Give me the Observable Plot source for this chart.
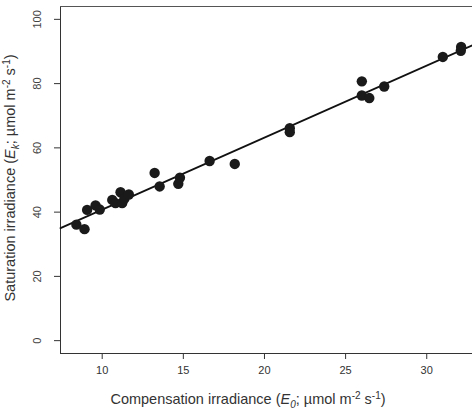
<!DOCTYPE html>
<html>
<head>
<meta charset="utf-8">
<script src="https://cdn.jsdelivr.net/npm/d3@7"></script>
<script src="https://cdn.jsdelivr.net/npm/@observablehq/plot@0.6"></script>
<style>
  html, body { margin: 0; padding: 0; background: #fff; }
  svg { display: block; }
</style>
</head>
<body>
<div id="chart"></div>
<script>
// Data
const compensation = [8.41, 8.91, 9.07, 9.59, 9.85, 10.62, 10.82, 11.13, 11.23, 11.37, 11.64,
  13.23, 13.54, 14.69, 14.79, 16.62, 18.17, 21.56, 21.56, 26.0, 26.0, 26.46, 27.38, 30.99, 32.12, 32.1];
const saturation = [36.1, 34.7, 40.7, 42.1, 40.8, 43.8, 42.8, 46.2, 42.8, 44.2, 45.5,
  52.2, 48.0, 48.8, 50.7, 55.9, 55.0, 66.1, 64.9, 80.7, 76.3, 75.5, 79.1, 88.3, 91.4, 90.2];
const fitIntercept = 18.35;
const fitSlope = 2.241;
const xTicks = [10, 15, 20, 25, 30];
const yTicks = [0, 20, 40, 60, 80, 100];
const xDomain = [7.43, 32.82];
const yDomain = [-4, 104];

const points = compensation.map((x, i) => ({x, y: saturation[i]}));
const fitLine = xDomain.map(x => ({x, y: fitIntercept + fitSlope * x}));

const ink = "#333";
const plot = Plot.plot({
  width: 472,
  height: 413,
  marginLeft: 60,
  marginTop: 6,
  marginBottom: 60,
  marginRight: 0,
  style: {fontFamily: "'Liberation Sans', Arial, Helvetica, sans-serif", fontSize: "11px", color: ink, background: "#fff"},
  x: {domain: xDomain, axis: null},
  y: {domain: yDomain, axis: null},
  marks: [
    Plot.axisX(xTicks, {tickSize: 6, tickPadding: 7, fontSize: 11, stroke: ink, color: ink, label: null}),
    Plot.axisY(yTicks, {tickSize: 6, tickFormat: () => "", stroke: ink, label: null}),
    Plot.text(yTicks, {y: d => d, text: d => String(d), frameAnchor: "left", dx: -23, rotate: -90, fontSize: 11, fill: "#444", textAnchor: "middle"}),
    Plot.ruleX([xDomain[0]], {stroke: ink, strokeWidth: 1}),
    Plot.ruleY([yDomain[0]], {stroke: ink, strokeWidth: 1}),
    Plot.ruleY([yDomain[1]], {stroke: "#555", strokeWidth: 1}),
    Plot.line(fitLine, {x: "x", y: "y", stroke: "#111", strokeWidth: 1.8}),
    Plot.dot(points, {x: "x", y: "y", r: 5.2, fill: "#1a1a1a", stroke: "none"})
  ]
});
document.getElementById("chart").appendChild(plot);

const svg = d3.select(plot);
function addLabel(g, parts) {
  for (const p of parts) {
    const t = g.append("tspan").text(p.t);
    if (p.i) t.attr("font-style", "italic");
    if (p.dy) t.attr("dy", p.dy);
    if (p.fs) t.attr("font-size", p.fs);
  }
}
const fam = "'Liberation Sans', Arial, Helvetica, sans-serif";
const labelSize = 14.5;
const smallSize = 10;
const parts = (sub) => [
  {t: " irradiance ("},
  {t: "E", i: true},
  {t: sub, i: true, dy: 3.5, fs: smallSize},
  {t: "; µmol m", dy: -3.5},
  {t: "-2", dy: -5.5, fs: smallSize},
  {t: " s", dy: 5.5},
  {t: "-1", dy: -5.5, fs: smallSize},
  {t: ")", dy: 5.5}
];
const xl = svg.append("text")
  .attr("x", 248).attr("y", 404)
  .attr("text-anchor", "middle")
  .attr("font-family", fam).attr("font-size", labelSize).attr("fill", ink);
addLabel(xl, [{t: "Compensation"}, ...parts("0")]);
const yl = svg.append("text")
  .attr("transform", "translate(15,178) rotate(-90)")
  .attr("text-anchor", "middle")
  .attr("font-family", fam).attr("font-size", labelSize).attr("fill", ink);
addLabel(yl, [{t: "Saturation"}, ...parts("k")]);
</script>
</body>
</html>
